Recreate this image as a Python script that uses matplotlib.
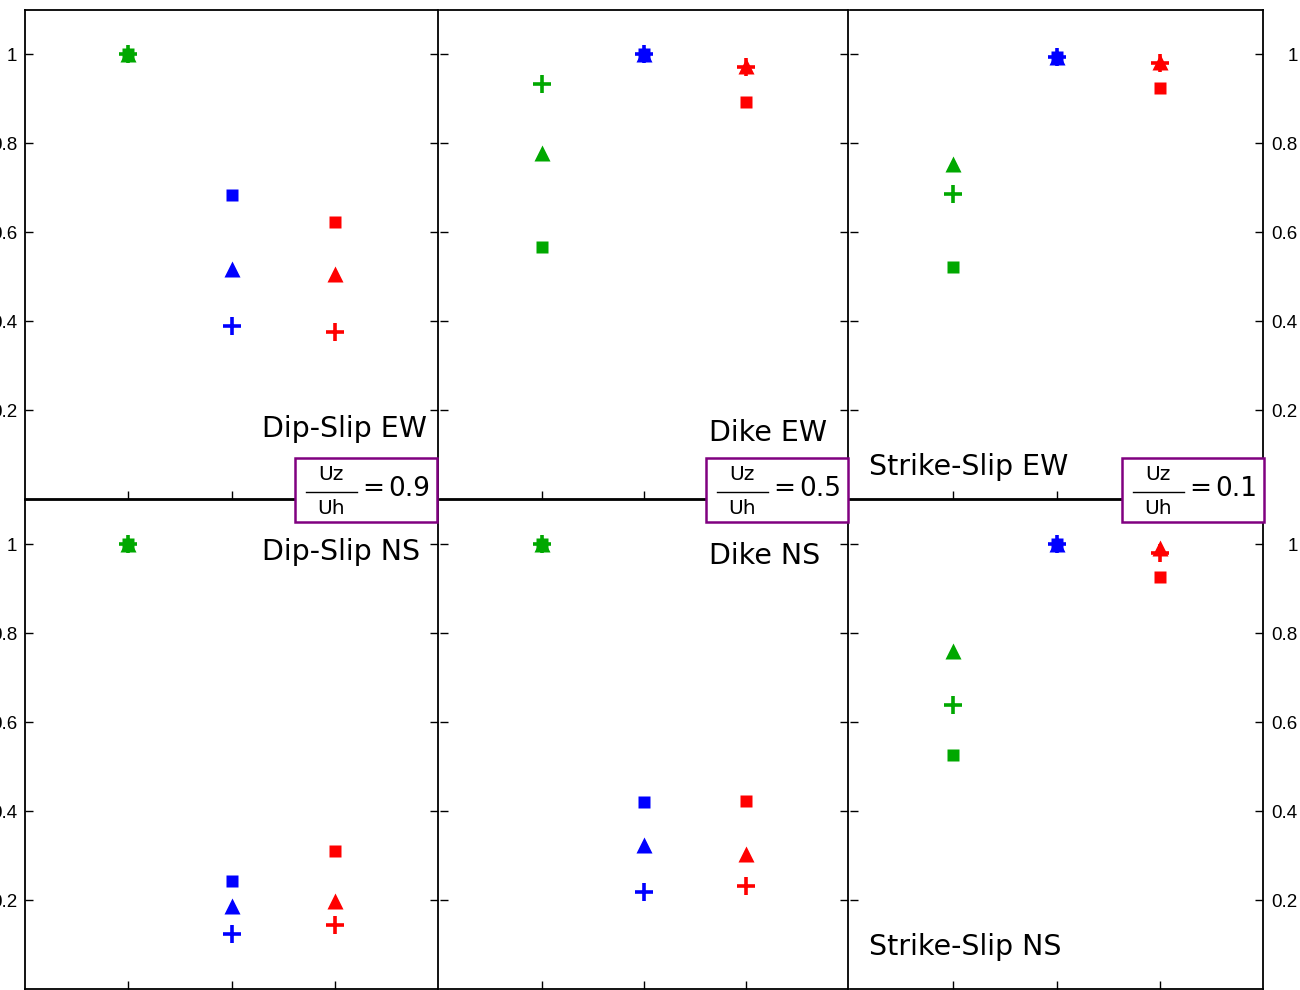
import matplotlib
matplotlib.use("Agg")
import matplotlib.pyplot as plt
from matplotlib.patches import Rectangle
from matplotlib.lines import Line2D

# x positions of the three sources and their colours
xpos = [1, 2, 3]
colors = ['#00a800', '#0000ff', '#ff0000']
yticks = [0.2, 0.4, 0.6, 0.8, 1.0]
ytick_labels = ['0.2', '0.4', '0.6', '0.8', '1']

# normalised values: square, triangle, plus for each panel
sq_dip_ew = [1.00, 0.684, 0.623]
tri_dip_ew = [1.00, 0.518, 0.506]
plus_dip_ew = [1.00, 0.389, 0.375]

sq_dike_ew = [0.567, 1.00, 0.892]
tri_dike_ew = [0.779, 1.00, 0.973]
plus_dike_ew = [0.934, 1.00, 0.971]

sq_ss_ew = [0.522, 0.995, 0.925]
tri_ss_ew = [0.754, 0.995, 0.984]
plus_ss_ew = [0.686, 0.995, 0.980]

sq_dip_ns = [1.00, 0.243, 0.310]
tri_dip_ns = [1.00, 0.186, 0.198]
plus_dip_ns = [1.00, 0.123, 0.144]

sq_dike_ns = [1.00, 0.421, 0.423]
tri_dike_ns = [1.00, 0.324, 0.304]
plus_dike_ns = [1.00, 0.218, 0.232]

sq_ss_ns = [0.527, 1.00, 0.926]
tri_ss_ns = [0.761, 1.00, 0.993]
plus_ss_ns = [0.639, 1.00, 0.980]

ratios = ['0.9', '0.5', '0.1']

panels = [
    ("Dip-Slip EW", sq_dip_ew, tri_dip_ew, plus_dip_ew, (2.30, 0.157)),
    ("Dike EW", sq_dike_ew, tri_dike_ew, plus_dike_ew, (2.64, 0.148)),
    ("Strike-Slip EW", sq_ss_ew, tri_ss_ew, plus_ss_ew, (0.18, 0.072)),
    ("Dip-Slip NS", sq_dip_ns, tri_dip_ns, plus_dip_ns, (2.30, 0.982)),
    ("Dike NS", sq_dike_ns, tri_dike_ns, plus_dike_ns, (2.64, 0.973)),
    ("Strike-Slip NS", sq_ss_ns, tri_ss_ns, plus_ss_ns, (0.18, 0.094)),
]

W, H = 1300, 990
fig = plt.figure(figsize=(13, 9.9), dpi=100)

col_px = [(25, 413), (440, 408), (850, 413)]
row_px = [(10, 489), (500, 489)]

for i, (name, sq, tri, pl, (tx, ty)) in enumerate(panels):
    r, c = divmod(i, 3)
    x0, w = col_px[c]
    y0, h = row_px[r]
    ax = fig.add_axes([x0 / W, 1 - (y0 + h) / H, w / W, h / H])
    for k in range(3):
        ax.plot(xpos[k], sq[k], 's', color=colors[k], ms=8, mec='none')
        ax.plot(xpos[k], tri[k], '^', color=colors[k], ms=12, mec='none')
        ax.plot(xpos[k], pl[k], '+', color=colors[k], ms=13, mew=2.6)
    ax.set_xlim(0, 4)
    ax.set_ylim(0, 1.1)
    ax.set_xticks(xpos)
    ax.set_xticklabels([])
    ax.set_yticks(yticks)
    ax.set_yticklabels(ytick_labels, fontfamily='Liberation Sans')
    ax.tick_params(axis='x', direction='in', length=6, width=1.0)
    ax.tick_params(axis='y', direction='in', length=6, width=1.0,
                   left=True, right=True, labelsize=13.5,
                   labelleft=(c == 0), labelright=(c == 2),
                   pad=5.5 if c == 0 else 25)
    if c == 2:
        for t in ax.yaxis.get_major_ticks():
            t.label2.set_horizontalalignment('right')
    for sp in ax.spines.values():
        sp.set_linewidth(1.3)
    # neighbouring panel already draws the shared edge
    if c > 0:
        ax.spines['left'].set_visible(False)
    ax.text(tx, ty, name, fontsize=20.5, va='center', ha='left')

# Uz/Uh ratio boxes on the row boundary
box_x = [295, 706, 1122]
for bx, val in zip(box_x, ratios):
    fig.patches.append(Rectangle((bx / W, 1 - 522 / H), 142 / W, 64 / H,
                                 transform=fig.transFigure, facecolor='white',
                                 edgecolor='#800080', linewidth=1.8, zorder=10))
    fx = bx + 36
    fig.text(fx / W, 1 - 475 / H, 'Uz', fontsize=14.5, ha='center',
             va='center', zorder=11)
    fig.text(fx / W, 1 - 509 / H, 'Uh', fontsize=14.5, ha='center',
             va='center', zorder=11)
    fig.lines.append(Line2D([(bx + 11) / W, (bx + 62) / W],
                            [1 - 492 / H, 1 - 492 / H],
                            transform=fig.transFigure, color='black',
                            linewidth=1.0, zorder=11))
    fig.text((bx + 67) / W, 1 - 489 / H, '=', fontsize=19,
             ha='left', va='center', zorder=11)
    fig.text((bx + 93) / W, 1 - 489 / H, val, fontsize=19,
             ha='left', va='center', zorder=11)

fig.savefig('out.png', dpi=100)
